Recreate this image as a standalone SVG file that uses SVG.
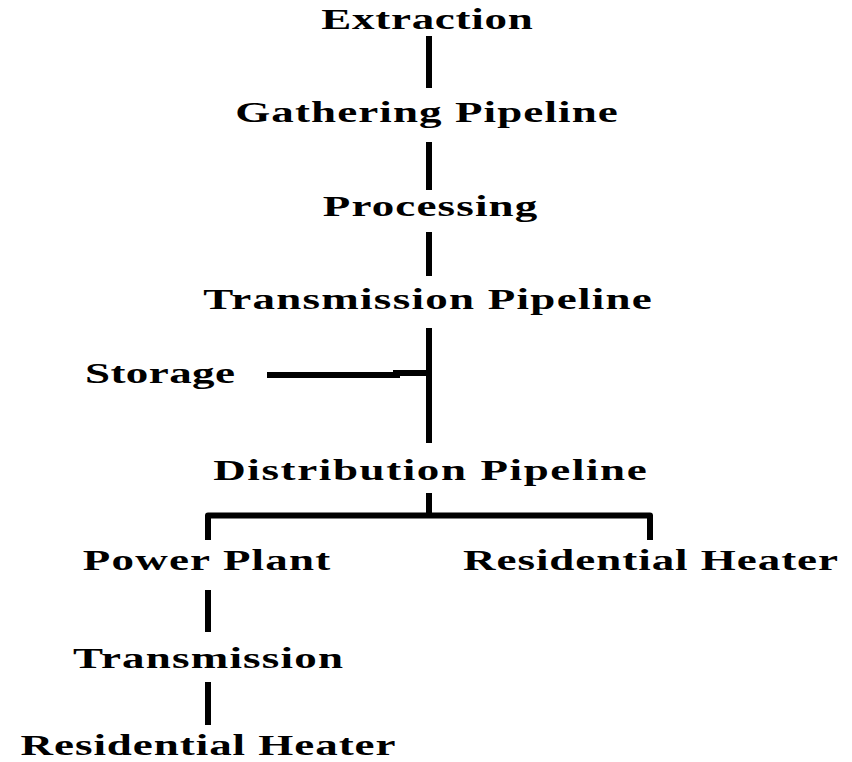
<svg xmlns="http://www.w3.org/2000/svg" width="852" height="762" viewBox="0 0 852 762">
<style>
  text { font-family: "Liberation Serif", "Times New Roman", serif; font-weight: bold; font-size: 30px; fill: #000; text-anchor: middle; }
  .c { stroke: #000; stroke-width: 6; fill: none; stroke-linecap: butt; stroke-linejoin: round; }
</style>
<rect width="852" height="762" fill="#fff"/>
<g id="connectors">
  <line class="c" x1="429" y1="36" x2="429" y2="88"/>
  <line class="c" x1="429" y1="142" x2="429" y2="190"/>
  <line class="c" x1="429" y1="232" x2="429" y2="276"/>
  <line class="c" x1="429" y1="328" x2="429" y2="443"/>
  <line class="c" x1="267" y1="375" x2="400" y2="375"/>
  <line class="c" x1="393" y1="373" x2="429" y2="373"/>
  <line class="c" x1="429" y1="493" x2="429" y2="515"/>
  <path class="c" d="M208,540 V515.5 H650 V540"/>
  <line class="c" x1="208" y1="590" x2="208" y2="632"/>
  <line class="c" x1="208" y1="682" x2="208" y2="725"/>
</g>
<g id="n-extraction" transform="translate(427,29) scale(1.5,1)"><text x="0" y="0" textLength="141" lengthAdjust="spacing">Extraction</text></g>
<g id="n-gathering" transform="translate(426.5,122) scale(1.5,1)"><text x="0" y="0" textLength="255" lengthAdjust="spacing">Gathering Pipeline</text></g>
<g id="n-processing" transform="translate(430,216) scale(1.5,1)"><text x="0" y="0" textLength="143" lengthAdjust="spacing">Processing</text></g>
<g id="n-transmission-pipeline" transform="translate(427.5,309) scale(1.5,1)"><text x="0" y="0" textLength="299" lengthAdjust="spacing">Transmission Pipeline</text></g>
<g id="n-storage" transform="translate(160,383) scale(1.5,1)"><text x="0" y="0" textLength="100" lengthAdjust="spacing">Storage</text></g>
<g id="n-distribution" transform="translate(430,480) scale(1.5,1)"><text x="0" y="0" textLength="289" lengthAdjust="spacing">Distribution Pipeline</text></g>
<g id="n-power-plant" transform="translate(206.5,570) scale(1.5,1)"><text x="0" y="0" textLength="165" lengthAdjust="spacing">Power Plant</text></g>
<g id="n-residential-heater-1" transform="translate(650.5,570) scale(1.5,1)"><text x="0" y="0" textLength="250" lengthAdjust="spacing">Residential Heater</text></g>
<g id="n-transmission" transform="translate(208,668) scale(1.5,1)"><text x="0" y="0" textLength="180" lengthAdjust="spacing">Transmission</text></g>
<g id="n-residential-heater-2" transform="translate(208,755) scale(1.5,1)"><text x="0" y="0" textLength="250" lengthAdjust="spacing">Residential Heater</text></g>
</svg>
